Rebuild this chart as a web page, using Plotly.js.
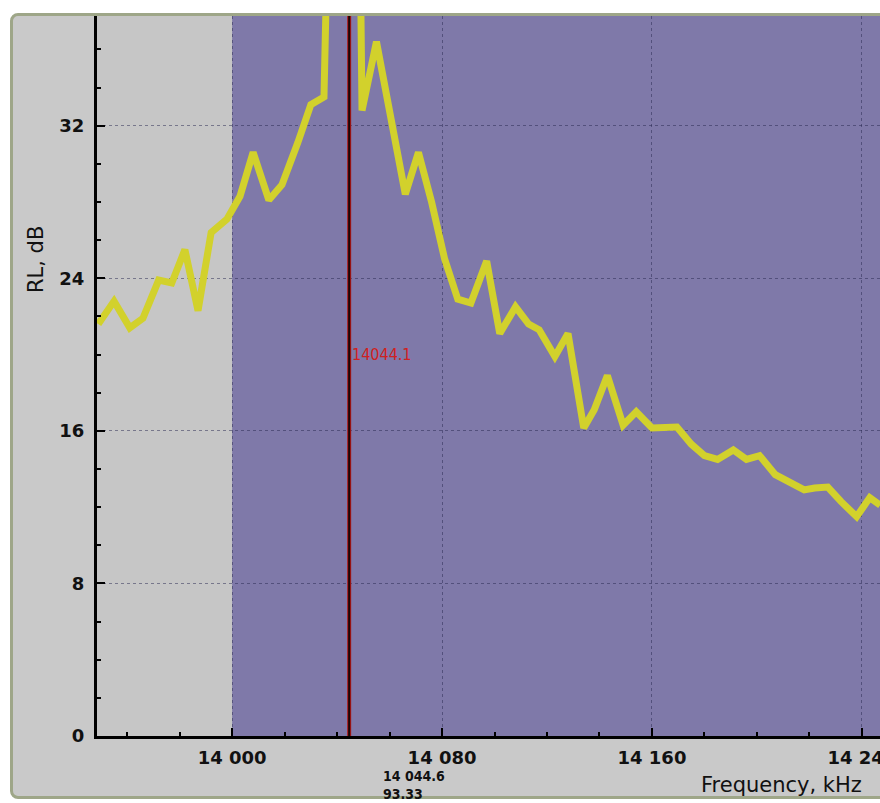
<!DOCTYPE html>
<html>
<head>
<meta charset="utf-8">
<script src="https://cdn.plot.ly/plotly-3.0.1.min.js"></script>
<style>
  html, body { margin: 0; padding: 0; background: #ffffff; overflow: hidden; }
  #frame { position: absolute; left: 10px; top: 13px; width: 900px; height: 786px;
           background: #c9c9c9; border: 3px solid #9ea688; border-radius: 8px; box-sizing: border-box; }
  #chart { position: absolute; left: 0; top: 0; width: 880px; height: 803px; }
</style>
</head>
<body>
<div id="frame"></div>
<div id="chart"></div>
<script>
// Frequency (kHz) and return loss (dB)
const freq_khz = [13949, 13955, 13961, 13966, 13972, 13977, 13982, 13987, 13992, 13998,
                  14003, 14008, 14014, 14019, 14025, 14030, 14035, 14040, 14044.6, 14049.5,
                  14055, 14066, 14071, 14076, 14081, 14086, 14091, 14097, 14102, 14108,
                  14113, 14117, 14123, 14128, 14134, 14138, 14143, 14149, 14154, 14160,
                  14165, 14169.5, 14175, 14180, 14185, 14191, 14196, 14201, 14207, 14213,
                  14218, 14222, 14227, 14232, 14238, 14243, 14247];
const rl_db = [21.6, 22.8, 21.4, 21.9, 23.9, 23.75, 25.5, 22.3, 26.4, 27.1,
               28.3, 30.6, 28.1, 28.9, 31.1, 33.1, 33.5, 85, 93.33, 32.8,
               36.4, 28.4, 30.6, 28.0, 25.0, 22.9, 22.7, 24.9, 21.1, 22.5,
               21.6, 21.3, 19.9, 21.1, 16.15, 17.1, 18.9, 16.3, 17.0, 16.15,
               16.15, 16.2, 15.3, 14.7, 14.5, 15.0, 14.5, 14.7, 13.7, 13.3,
               12.9, 13.0, 13.05, 12.3, 11.5, 12.5, 12.1];

const band_start_khz = 14000;
const marker_freq = 14044.6;
const marker_rl = 93.33;
const marker_tag = "14044.1";
const marker_tag_y = 20;

const x_ticks = [14000, 14080, 14160, 14240];
const y_ticks = [0, 8, 16, 24, 32];
const x_title = "Frequency, kHz";
const y_title = "RL, dB";

const tickFont = {family: "DejaVu Sans", size: 18, color: "#111111", weight: "bold"};
const titleFont = {family: "DejaVu Sans", size: 21, color: "#111111"};

const trace = {
  x: freq_khz, y: rl_db, type: "scatter", mode: "lines",
  line: {color: "#d2d12c", width: 7},
  hoverinfo: "skip"
};

const layout = {
  width: 880, height: 803,
  margin: {l: 97, r: 0, t: 16, b: 67, pad: 0},
  paper_bgcolor: "rgba(0,0,0,0)",
  plot_bgcolor: "#c6c6c6",
  separators: ". ",
  showlegend: false,
  xaxis: {
    range: [13948.5, 14246.9],
    tickmode: "array", tickvals: x_ticks,
    tickformat: ",d",
    ticks: "inside", ticklen: 8, tickwidth: 2, tickcolor: "#000",
    minor: {dtick: 20, tick0: 14000, ticks: "inside", ticklen: 4, tickwidth: 2, tickcolor: "#000", showgrid: false},
    showline: true, linecolor: "#000", linewidth: 3,
    showgrid: true, gridcolor: "rgba(40,40,80,0.5)", griddash: "dot", gridwidth: 1,
    zeroline: false,
    tickfont: tickFont,
    ticklabelstandoff: 3,
    ticklabeloverflow: "allow",
    fixedrange: true
  },
  yaxis: {
    range: [0, 37.75],
    tickmode: "array", tickvals: y_ticks,
    ticks: "inside", ticklen: 8, tickwidth: 2, tickcolor: "#000",
    minor: {dtick: 2, tick0: 0, ticks: "inside", ticklen: 4, tickwidth: 2, tickcolor: "#000", showgrid: false},
    showline: true, linecolor: "#000", linewidth: 3,
    showgrid: true, gridcolor: "rgba(40,40,80,0.5)", griddash: "dot", gridwidth: 1,
    zeroline: false,
    tickfont: tickFont,
    ticklabelstandoff: 6,
    fixedrange: true
  },
  shapes: [
    {type: "rect", xref: "x", yref: "paper", x0: band_start_khz, x1: 14300, y0: 0, y1: 1,
     fillcolor: "#7f79a9", line: {width: 0}, layer: "below"},
    {type: "line", xref: "x", yref: "paper", x0: marker_freq, x1: marker_freq, y0: 0, y1: 1,
     line: {color: "#b01818", width: 4}, layer: "above"},
    {type: "line", xref: "x", yref: "paper", x0: marker_freq, x1: marker_freq, y0: 0, y1: 1,
     line: {color: "#1a0505", width: 2}, layer: "above"}
  ],
  annotations: [
    {x: marker_freq, y: marker_tag_y, xref: "x", yref: "y", text: marker_tag,
     showarrow: false, xanchor: "left", yanchor: "middle", xshift: 1,
     font: {family: "DejaVu Sans Condensed", size: 16, color: "#d02020"}},
    {x: marker_freq, y: 0, xref: "x", yref: "paper",
     text: "14 044.6<br>" + marker_rl.toFixed(2), align: "left",
     showarrow: false, xanchor: "left", yanchor: "top", xshift: 32, yshift: -30,
     font: {family: "DejaVu Sans Condensed", size: 14, color: "#111", weight: "bold"}},
    {x: 0.979, y: 0, xref: "paper", yref: "paper", text: x_title,
     showarrow: false, xanchor: "right", yanchor: "middle", yshift: -49,
     font: titleFont},
    {x: 0, y: 0.661, xref: "paper", yref: "paper", text: y_title, textangle: -90,
     showarrow: false, xanchor: "center", yanchor: "middle", xshift: -61,
     font: titleFont}
  ]
};

Plotly.newPlot("chart", [trace], layout, {displayModeBar: false, staticPlot: true});
</script>
</body>
</html>
